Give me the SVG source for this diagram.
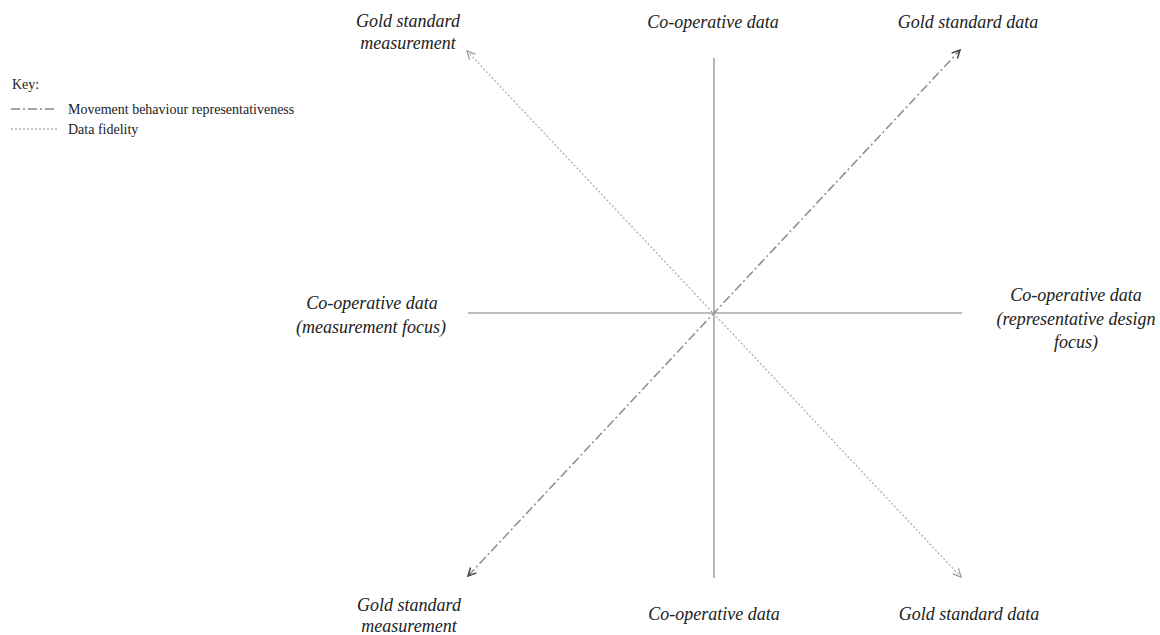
<svg xmlns="http://www.w3.org/2000/svg" width="1160" height="635" viewBox="0 0 1160 635">
<style>
.lbl{font-family:"Liberation Serif","Times New Roman",serif;font-style:italic;font-size:18px;fill:#222;text-anchor:middle}
.key{font-family:"Liberation Serif","Times New Roman",serif;font-size:14px;fill:#222}
.axis{stroke:#a6a6a6;stroke-width:1.6;fill:none}
.dd{stroke:#8c8c8c;stroke-width:1.5;fill:none;stroke-dasharray:9 3 2 3}
.dot{stroke:#b0b0b0;stroke-width:1.3;fill:none;stroke-dasharray:2 2}
</style>
<defs>
<marker id="arrDD" viewBox="0 0 10 10" refX="9" refY="5" markerWidth="10" markerHeight="10" markerUnits="userSpaceOnUse" orient="auto-start-reverse">
<path d="M1,1 L9,5 L1,9" fill="none" stroke="#444" stroke-width="1.5"/>
</marker>
<marker id="arrDot" viewBox="0 0 10 10" refX="9" refY="5" markerWidth="10" markerHeight="10" markerUnits="userSpaceOnUse" orient="auto-start-reverse">
<path d="M1,1 L9,5 L1,9" fill="none" stroke="#999" stroke-width="1.2"/>
</marker>
</defs>
<rect width="1160" height="635" fill="#fff"/>
<g id="connectors">
<line class="axis" x1="714" y1="58" x2="714" y2="578"/>
<line class="axis" x1="468" y1="313" x2="962" y2="313"/>
<line class="dd" x1="468" y1="576" x2="960" y2="50" marker-start="url(#arrDD)" marker-end="url(#arrDD)"/>
<line class="dot" x1="467" y1="51" x2="961" y2="577" marker-start="url(#arrDot)" marker-end="url(#arrDot)"/>
</g>
<g id="key">
<text class="key" x="12" y="89">Key:</text>
<line class="dd" x1="11" y1="109" x2="57" y2="109"/>
<text class="key" x="68" y="114">Movement behaviour representativeness</text>
<line class="dot" x1="11" y1="129" x2="57" y2="129"/>
<text class="key" x="68" y="134">Data fidelity</text>
</g>
<g id="top-left"><text class="lbl" x="408" y="27">Gold standard</text><text class="lbl" x="408" y="49">measurement</text></g>
<g id="top-center"><text class="lbl" x="713" y="28">Co-operative data</text></g>
<g id="top-right"><text class="lbl" x="968" y="28">Gold standard data</text></g>
<g id="mid-left"><text class="lbl" x="372" y="309">Co-operative data</text><text class="lbl" x="371" y="333">(measurement focus)</text></g>
<g id="mid-right"><text class="lbl" x="1076" y="301">Co-operative data</text><text class="lbl" x="1076" y="325">(representative design</text><text class="lbl" x="1076" y="348">focus)</text></g>
<g id="bottom-left"><text class="lbl" x="409" y="611">Gold standard</text><text class="lbl" x="409" y="632">measurement</text></g>
<g id="bottom-center"><text class="lbl" x="714" y="620">Co-operative data</text></g>
<g id="bottom-right"><text class="lbl" x="969" y="620">Gold standard data</text></g>
</svg>
